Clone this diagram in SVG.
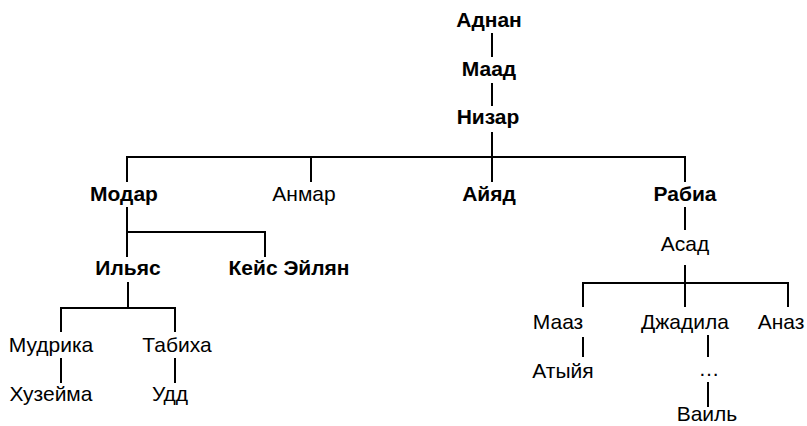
<svg xmlns="http://www.w3.org/2000/svg" width="807" height="426" viewBox="0 0 807 426">
<style>
text{font-family:"Liberation Sans",Arial,sans-serif;font-size:21px;fill:#000;text-anchor:middle}
.b{font-weight:bold}
#connectors line{stroke:#000;stroke-width:2}
</style>
<rect width="807" height="426" fill="#fff"/>
<g id="connectors">
<line x1="492" y1="33" x2="492" y2="57"/>
<line x1="492" y1="83" x2="492" y2="106"/>
<line x1="492" y1="132" x2="492" y2="157"/>
<line x1="126" y1="157" x2="686" y2="157"/>
<line x1="127" y1="157" x2="127" y2="182"/>
<line x1="311" y1="157" x2="311" y2="182"/>
<line x1="492" y1="157" x2="492" y2="182"/>
<line x1="685" y1="157" x2="685" y2="182"/>
<line x1="127" y1="207" x2="127" y2="232"/>
<line x1="126" y1="232" x2="266" y2="232"/>
<line x1="127" y1="232" x2="127" y2="257"/>
<line x1="265" y1="232" x2="265" y2="257"/>
<line x1="128" y1="282" x2="128" y2="308"/>
<line x1="60" y1="308" x2="176" y2="308"/>
<line x1="61" y1="308" x2="61" y2="332"/>
<line x1="175" y1="308" x2="175" y2="332"/>
<line x1="61" y1="358" x2="61" y2="383"/>
<line x1="175" y1="358" x2="175" y2="383"/>
<line x1="685" y1="207" x2="685" y2="230"/>
<line x1="685" y1="265" x2="685" y2="283"/>
<line x1="582" y1="283" x2="789" y2="283"/>
<line x1="583" y1="283" x2="583" y2="307"/>
<line x1="685" y1="283" x2="685" y2="307"/>
<line x1="788" y1="283" x2="788" y2="307"/>
<line x1="583" y1="337" x2="583" y2="357"/>
<line x1="708" y1="335" x2="708" y2="357"/>
<line x1="708" y1="382" x2="708" y2="407"/>
</g>
<g id="n-adnan"><text class="b" x="489" y="27">Аднан</text></g>
<g id="n-maad"><text class="b" x="489" y="76">Маад</text></g>
<g id="n-nizar"><text class="b" x="488" y="124">Низар</text></g>
<g id="n-modar"><text class="b" x="124" y="201">Модар</text></g>
<g id="n-anmar"><text x="304" y="201">Анмар</text></g>
<g id="n-ayad"><text class="b" x="489" y="201">Айяд</text></g>
<g id="n-rabia"><text class="b" x="685" y="201">Рабиа</text></g>
<g id="n-asad"><text x="685" y="251">Асад</text></g>
<g id="n-ilyas"><text class="b" x="128" y="275">Ильяс</text></g>
<g id="n-keys"><text class="b" x="289" y="275">Кейс Эйлян</text></g>
<g id="n-mudrika"><text x="51" y="352">Мудрика</text></g>
<g id="n-tabiha"><text x="177" y="352">Табиха</text></g>
<g id="n-huzeyma"><text x="51" y="401">Хузейма</text></g>
<g id="n-udd"><text x="170" y="401">Удд</text></g>
<g id="n-maaz"><text x="558" y="329">Мааз</text></g>
<g id="n-djadila"><text x="685" y="329">Джадила</text></g>
<g id="n-anaz"><text x="781" y="329">Аназ</text></g>
<g id="n-atyya"><text x="563" y="378">Атыйя</text></g>
<g id="n-dots"><text x="709" y="376">…</text></g>
<g id="n-wail"><text x="707" y="421">Ваиль</text></g>
</svg>
